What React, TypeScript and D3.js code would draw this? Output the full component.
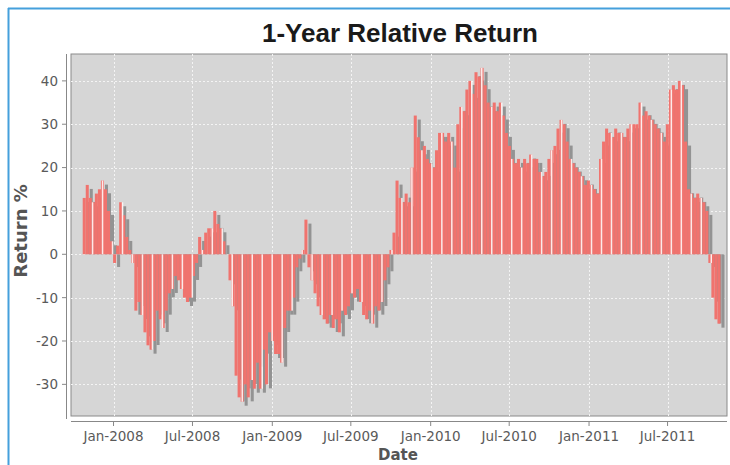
import * as d3 from "d3";

// weekly 1-year relative return (%), first week starting 22 Oct 2007
const startDate = new Date(2007, 9, 22);
const weeklyReturn = [
  13, 16, 13, 12, 14, 15, 17, 15, 10, 3,
  -2, 2, 12, 9, 4, 1, -2, -13, -11, -14,
  -18, -21, -22, -20, -13, -15, -17, -13, -9, -8,
  -5, -6, -8, -10, -11, -10, -5, -2, 4, 1,
  5, 6, 6, 10, 7, 6, 3, 0, -6, -12,
  -28, -33, -34, -30, -33, -29, -31, -25, -31, -22,
  -30, -18, -20, -23, -23, -25, -17, -13, -13, -10,
  -3, -1, 1, 8, -3, -6, -9, -12, -14, -15,
  -16, -14, -17, -15, -18, -13, -14, -12, -9, -10,
  -8, -11, -14, -15, -13, -16, -12, -13, -11, -6,
  -3, 1, 5, 17, 13, 12, 14, 12, 20, 32,
  27, 24, 25, 22, 21, 20, 24, 28, 28, 26,
  28, 26, 20, 30, 34, 33, 38, 40, 37, 42,
  41, 43, 39, 35, 34, 35, 33, 35, 32, 28,
  25, 22, 21, 22, 20, 22, 21, 23, 22, 22,
  19, 18, 19, 22, 24, 25, 29, 31, 30, 26,
  22, 21, 20, 19, 18, 16, 17, 16, 15, 14,
  22, 26, 29, 28, 27, 29, 28, 28, 27, 29,
  30, 30, 30, 35, 32, 33, 32, 31, 30, 29,
  28, 26, 30, 38, 39, 38, 40, 39, 26, 15,
  14, 13, 14, 13, 12, 10, -2, -10, -15, -16,
];
const yTicks = [-30, -20, -10, 0, 10, 20, 30, 40];
const xDomain = [new Date(2007, 8, 25), new Date(2011, 10, 15)];
const yDomain = [-37.3, 46.2];

const W = 730, H = 465;
const plot = { left: 71, right: 727, top: 54, bottom: 416 };
const font = "'DejaVu Sans', sans-serif";

export default function App() {
  const x = d3.scaleTime().domain(xDomain).range([plot.left, plot.right]);
  const y = d3.scaleLinear().domain(yDomain).range([plot.bottom, plot.top]);
  const y0 = y(0);
  const shadowOff = 4;

  const bars = weeklyReturn.map((v, i) => {
    const d0 = d3.timeDay.offset(startDate, i * 7);
    const d1 = d3.timeDay.offset(startDate, i * 7 + 7);
    return { v, x0: x(d0), x1: x(d1) };
  });

  // bright stripes from the gradient painter, roughly every 23 days
  const stripes: { x: number; v: number }[] = [];
  for (let k = 0; ; k++) {
    const d = d3.timeDay.offset(new Date(2007, 10, 12), k * 23);
    const idx = Math.floor(d3.timeDay.count(startDate, d) / 7);
    if (idx >= weeklyReturn.length) break;
    stripes.push({ x: x(d), v: weeklyReturn[idx] });
  }

  const xTicks = d3.timeMonth.every(6)!.range(xDomain[0], xDomain[1]);
  const fmt = d3.timeFormat("%b-%Y");

  return (
    <svg width={W} height={H} style={{ position: "absolute", left: 0, top: 0 }}>
      <rect width={W} height={H} fill="#fff" />
      <line x1={8.5} x2={8.5} y1={8} y2={H} stroke="#45a0dc" strokeWidth={2} />
      <line x1={8} x2={W} y1={8.5} y2={8.5} stroke="#45a0dc" strokeWidth={2} />

      <text x={400} y={42} textAnchor="middle" fontFamily="'Liberation Sans', Arial, sans-serif"
        fontWeight="bold" fontSize={26} fill="#1a1a1a">1-Year Relative Return</text>

      <rect x={plot.left} y={plot.top} width={plot.right - plot.left} height={plot.bottom - plot.top}
        fill="#d6d6d6" stroke="#8a8a8a" />

      <g stroke="#f4f4f4" strokeDasharray="2,2" strokeWidth={1}>
        {yTicks.map((t) => (
          <line key={t} x1={plot.left} x2={plot.right} y1={Math.round(y(t)) + 0.5} y2={Math.round(y(t)) + 0.5} />
        ))}
        {xTicks.map((t) => (
          <line key={+t} x1={Math.round(x(t)) + 0.5} x2={Math.round(x(t)) + 0.5} y1={plot.top} y2={plot.bottom} />
        ))}
      </g>

      <g>
        {bars.map((b, i) => {
          const top = y(Math.max(b.v, 0));
          const bot = y(Math.min(b.v, 0));
          const sh = b.v >= 0
            ? { y: top + shadowOff, h: Math.max(0, y0 - top - shadowOff) }
            : { y: y0, h: bot - y0 + shadowOff };
          return (
            <g key={i}>
              <rect x={b.x0 + shadowOff} y={sh.y} width={b.x1 - b.x0} height={sh.h} fill="#939393" />
              <rect x={b.x0} y={top} width={b.x1 - b.x0} height={bot - top} fill="#f0736e" />
            </g>
          );
        })}
        {stripes.map((s, i) => {
          const top = y(Math.max(s.v, 0));
          const bot = y(Math.min(s.v, 0));
          return <rect key={i} x={s.x} y={top} width={1.5} height={bot - top} fill="#fff" opacity={0.85} />;
        })}
      </g>

      {/* y axis */}
      <line x1={66.5} x2={66.5} y1={plot.top} y2={419} stroke="#888" />
      {yTicks.map((t) => (
        <g key={t} transform={`translate(0,${y(t)})`}>
          <line x1={62} x2={66} stroke="#888" />
          <text x={58} dy="0.36em" textAnchor="end" fontFamily={font} fontSize={13.5} fill="#5a5a5a">{t}</text>
        </g>
      ))}

      {/* x axis */}
      <line x1={plot.left} x2={plot.right} y1={421.5} y2={421.5} stroke="#888" />
      {xTicks.map((t) => (
        <g key={+t} transform={`translate(${x(t)},0)`}>
          <line y1={422} y2={426} stroke="#888" />
          <text y={441} textAnchor="middle" fontFamily={font} fontSize={13.5} fill="#5a5a5a">{fmt(t)}</text>
        </g>
      ))}

      <text x={398} y={460} textAnchor="middle" fontFamily={font} fontWeight="bold" fontSize={15} fill="#555">Date</text>
      <text transform="translate(27,231) rotate(-90)" textAnchor="middle" fontFamily={font}
        fontWeight="bold" fontSize={18} fill="#555">Return %</text>
    </svg>
  );
}
